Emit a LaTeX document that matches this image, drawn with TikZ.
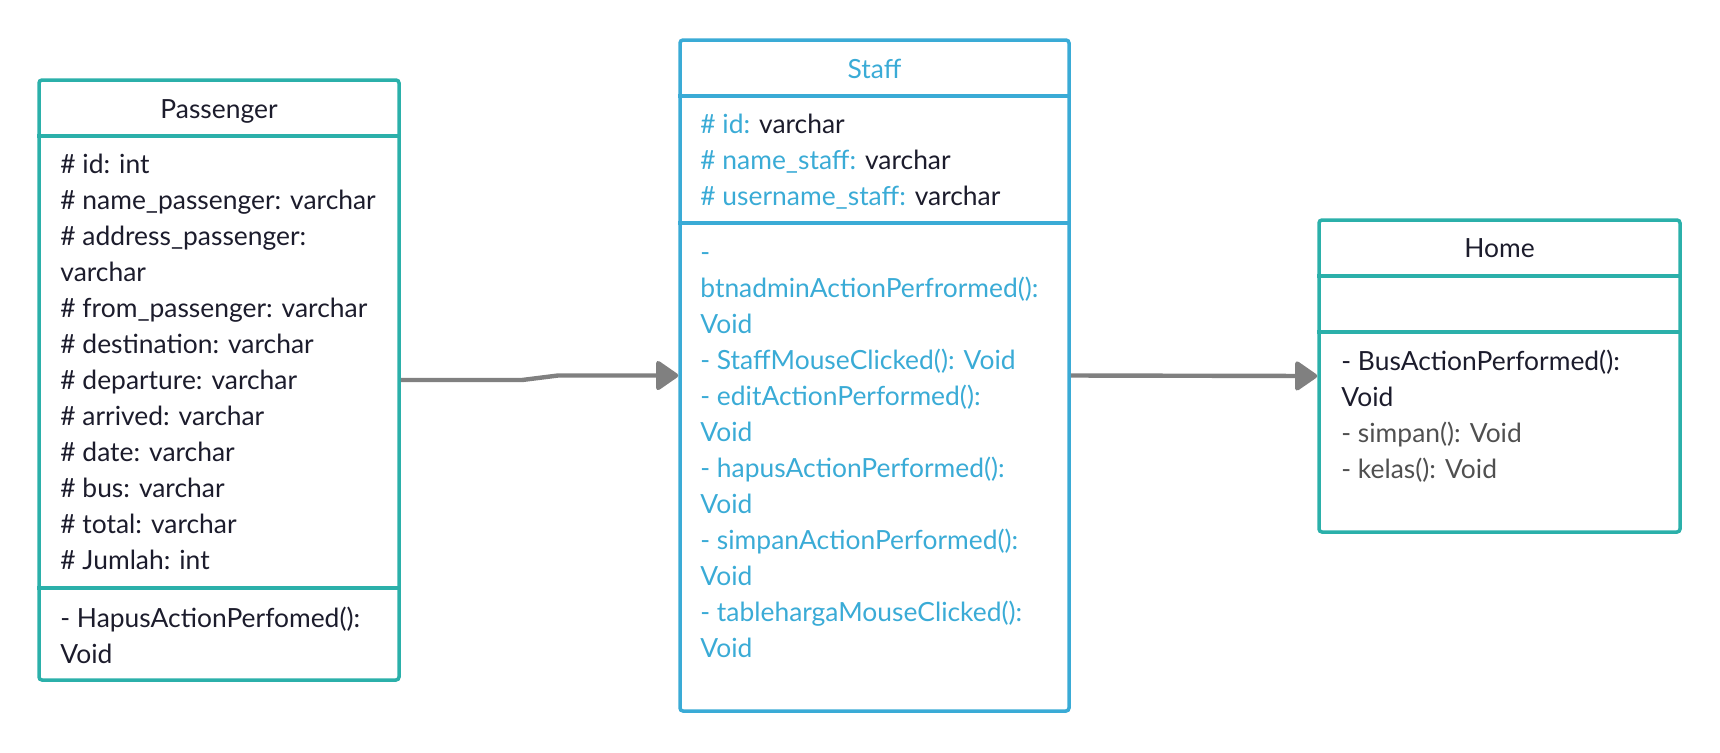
\documentclass[tikz,border=0pt]{standalone}
\usepackage{fontspec}
\setmainfont{Lato}
\usetikzlibrary{arrows.meta, fit}
\definecolor{umlteal}{HTML}{2BB0AA}
\definecolor{umlblue}{HTML}{3AABD6}
\definecolor{umldark}{HTML}{1C1C2C}
\definecolor{umlgrey}{HTML}{505050}
\definecolor{linkgrey}{HTML}{808080}
\newcommand{\staffkey}[1]{{\color{umlblue}#1}}

\begin{document}
\begin{tikzpicture}[x=0.5pt, y=-0.5pt,
    box/.style={draw, line width=1.75pt, rounded corners=1.5pt, inner sep=0pt},
    txt/.style={anchor=base west, inner sep=0pt, font=\fontsize{13.2}{18}\selectfont, text=umldark},
    title/.style={anchor=base, inner sep=0pt, font=\fontsize{13.2}{18}\selectfont, text=umldark},
    link/.style={draw=linkgrey, line width=2.2pt, line join=round, -{Triangle[length=12pt, width=16pt, round]}}]
    \useasboundingbox (0,0) rectangle (1720,752);
    % Passenger
    \node[box, draw=umlteal, fit={(39,80) (399,680)}] (passenger) {};
    \draw[umlteal, line width=1.75pt] (passenger.west |- 0,136) -- (passenger.east |- 0,136);
    \draw[umlteal, line width=1.75pt] (passenger.west |- 0,588) -- (passenger.east |- 0,588);
    \node[title] (ptitle) at (219,118) {Passenger};
    \foreach \t [count=\i from 0] in {\# id: int, \# name\_passenger: varchar, \# address\_passenger:, varchar,
        \# from\_passenger: varchar, \# destination: varchar, \# departure: varchar, \# arrived: varchar,
        \# date: varchar, \# bus: varchar, \# total: varchar, \# Jumlah: int}
        \node[txt] (pa\i) at (60,173+36*\i) {\t};
    \node[txt] (pm0) at (60,627) {- HapusActionPerfomed():};
    \node[txt] (pm1) at (60,663) {Void};
    % Staff
    \node[box, draw=umlblue, fit={(680,40) (1069,711)}] (staff) {};
    \draw[umlblue, line width=1.75pt] (staff.west |- 0,96) -- (staff.east |- 0,96);
    \draw[umlblue, line width=1.75pt] (staff.west |- 0,223) -- (staff.east |- 0,223);
    \node[title, text=umlblue] (stitle) at (874.5,78) {Staff};
    \foreach \t [count=\i from 0] in {{\staffkey{\# id:} varchar}, {\staffkey{\# name\_staff:} varchar}, {\staffkey{\# username\_staff:} varchar}}
        \node[txt] (sa\i) at (700,133+36*\i) {\t};
    \foreach \t [count=\i from 0] in {-, btnadminActionPerfrormed():, Void, - StaffMouseClicked(): Void,
        - editActionPerformed():, Void, - hapusActionPerformed():, Void, - simpanActionPerformed():, Void,
        - tablehargaMouseClicked():, Void}
        \node[txt, text=umlblue] (sm\i) at (700,261+36*\i) {\t};
    % Home
    \node[box, draw=umlteal, fit={(1319,220) (1680,532)}] (home) {};
    \draw[umlteal, line width=1.75pt] (home.west |- 0,276) -- (home.east |- 0,276);
    \draw[umlteal, line width=1.75pt] (home.west |- 0,332) -- (home.east |- 0,332);
    \node[title] (htitle) at (1499.5,257) {Home};
    \node[txt] (hm0) at (1341,370) {- BusActionPerformed():};
    \node[txt] (hm1) at (1341,406) {Void};
    \node[txt, text=umlgrey] (hm2) at (1341,442) {- simpan(): Void};
    \node[txt, text=umlgrey] (hm3) at (1341,478) {- kelas(): Void};
    % links
    \coordinate (bend1) at (522,380);
    \coordinate (bend2) at (558,375.5);
    \draw[link] (passenger.east) -- (bend1) -- (bend2) -- (staff.west);
    \draw[link] (staff.east) -- (home.west);
\end{tikzpicture}
\end{document}
